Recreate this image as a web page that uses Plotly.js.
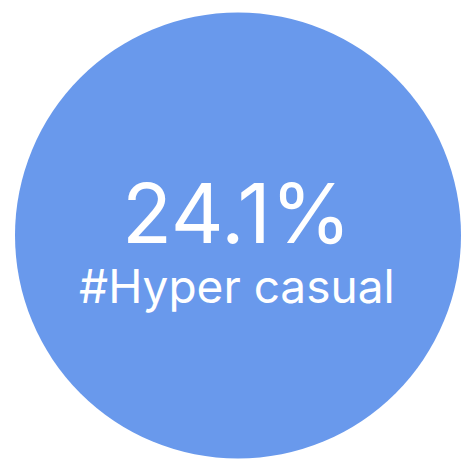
<!DOCTYPE html>
<html>
<head>
<meta charset="utf-8">
<script src="https://cdn.plot.ly/plotly-3.0.1.min.js"></script>
<style>html,body{margin:0;padding:0;background:#fff;}#chart{width:465px;height:464px;}</style>
</head>
<body>
<div id="chart"></div>
<script>
const categories = ["Hyper casual"];
const shareValues = [24.1];
const circleValues = [1];

const W = 465, H = 464;
const fontFamily = "Inter, 'DejaVu Sans', sans-serif";

const data = [{
  type: "pie",
  labels: categories,
  values: circleValues,
  marker: { colors: ["#6999EC"], line: { width: 0 } },
  textinfo: "none",
  hoverinfo: "skip",
  sort: false,
  showlegend: false,
  domain: { x: [15 / W, 461 / W], y: [(H - 459) / H, (H - 12) / H] }
}];

const layout = {
  width: W,
  height: H,
  margin: { l: 0, r: 0, t: 0, b: 0 },
  paper_bgcolor: "#ffffff",
  showlegend: false,
  annotations: [
    {
      text: shareValues[0].toFixed(1) + "%",
      x: 237 / W, y: 1 - 213 / H, xref: "paper", yref: "paper",
      xanchor: "center", yanchor: "middle", showarrow: false,
      font: { family: fontFamily, size: 82, color: "#ffffff", weight: 400 }
    },
    {
      text: "#" + categories[0],
      x: 237 / W, y: 1 - 286 / H, xref: "paper", yref: "paper",
      xanchor: "center", yanchor: "middle", showarrow: false,
      font: { family: fontFamily, size: 46, color: "#ffffff", weight: 400 }
    }
  ]
};

Plotly.newPlot("chart", data, layout, { displayModeBar: false, staticPlot: true });
</script>
</body>
</html>
